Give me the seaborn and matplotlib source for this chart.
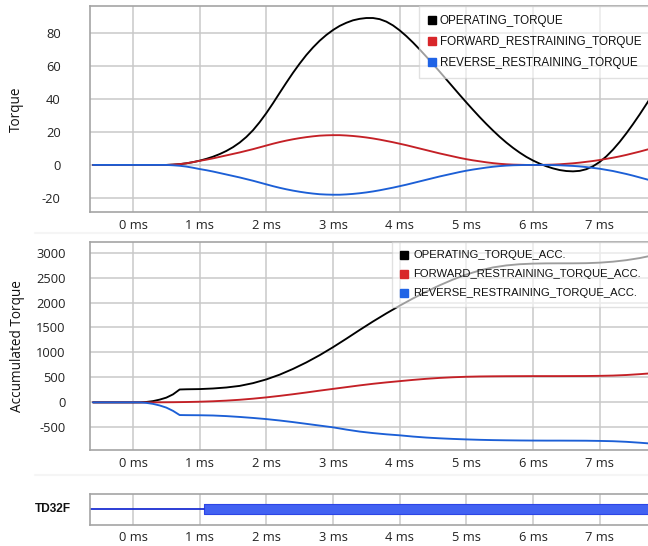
import numpy as np
import pandas as pd
import matplotlib
matplotlib.use("Agg")
import matplotlib.pyplot as plt
from matplotlib.lines import Line2D
import seaborn as sns

# ---------------- data ----------------
t_torque = [-0.6, 0.0, 0.5, 0.6, 0.7, 0.8, 0.9, 1.0, 1.1, 1.2, 1.3, 1.4, 1.5, 1.6, 1.7, 1.8, 1.9,
            2.0, 2.1, 2.2, 2.3, 2.4, 2.5, 2.6, 2.7, 2.8, 2.9, 3.0, 3.1, 3.2, 3.3, 3.4, 3.5, 3.6,
            3.7, 3.8, 3.9, 4.0, 4.1, 4.2, 4.3, 4.4, 4.5, 4.6, 4.7, 4.8, 4.9, 5.0, 5.1, 5.2, 5.3,
            5.4, 5.5, 5.6, 5.7, 5.8, 5.9, 6.0, 6.1, 6.2, 6.3, 6.4, 6.5, 6.6, 6.7, 6.8, 6.9, 7.0,
            7.1, 7.2, 7.3, 7.4, 7.5, 7.6, 7.7, 7.8]
operating_torque = [0, 0, 0, 0.2, 0.5, 1.0, 1.7, 2.6, 3.7, 5.0, 6.6, 8.5, 10.8, 13.6, 17.0, 21.1, 26.0,
                    31.5, 37.5, 43.8, 50.0, 56.0, 61.6, 66.8, 71.4, 75.5, 79.0, 82.0, 84.5, 86.4, 87.9, 88.8, 89.3, 89.3,
                    88.6, 87.1, 84.8, 81.8, 78.3, 74.4, 70.2, 65.8, 61.3, 56.7, 52.0, 47.3, 42.6, 38.0, 33.5, 29.1, 24.9,
                    20.9, 17.1, 13.6, 10.4, 7.5, 4.9, 2.7, 0.8, -0.8, -2.1, -3.1, -3.7, -3.9, -3.6, -2.6, -0.8, 1.8,
                    5.2, 9.3, 14.0, 19.2, 24.8, 30.7, 36.9, 43.2]
forward_restraining_torque = [0, 0, 0, 0.2, 0.5, 1.0, 1.7, 2.5, 3.2, 4.0, 4.9, 5.8, 6.7, 7.6, 8.6, 9.6, 10.7,
                              11.8, 12.9, 13.9, 14.8, 15.6, 16.3, 16.9, 17.4, 17.8, 18.0, 18.1, 18.1, 17.9, 17.6, 17.2, 16.7, 16.1,
                              15.4, 14.6, 13.8, 12.9, 12.0, 11.0, 10.0, 9.0, 8.0, 7.0, 6.1, 5.2, 4.3, 3.5, 2.8, 2.2, 1.6,
                              1.1, 0.7, 0.4, 0.2, 0.1, 0, 0, 0, 0.1, 0.2, 0.4, 0.7, 1.0, 1.4, 1.9, 2.4, 3.0,
                              3.7, 4.4, 5.2, 6.1, 7.1, 8.1, 9.2, 10.3]
reverse_restraining_torque = [0, 0, 0, -0.2, -0.5, -1.0, -1.7, -2.5, -3.2, -4.0, -4.9, -5.8, -6.7, -7.6, -8.6, -9.6, -10.7,
                              -11.8, -12.9, -13.9, -14.8, -15.6, -16.3, -16.9, -17.4, -17.8, -18.0, -18.1, -18.1, -17.9, -17.6, -17.2, -16.7, -16.1,
                              -15.4, -14.6, -13.8, -12.9, -12.0, -11.0, -10.0, -9.0, -8.0, -7.0, -6.1, -5.2, -4.3, -3.5, -2.8, -2.2, -1.6,
                              -1.1, -0.7, -0.4, -0.2, -0.1, 0, 0, 0, 0, -0.1, -0.2, -0.4, -0.6, -0.9, -1.3, -1.8, -2.3,
                              -3.0, -3.7, -4.6, -5.5, -6.5, -7.6, -8.7, -9.8]

t_acc = [-0.6, -0.4, -0.2, 0.0, 0.1, 0.2, 0.3, 0.4, 0.5, 0.6, 0.7, 0.8, 1.0, 1.2, 1.4,
         1.6, 1.8, 2.0, 2.2, 2.4, 2.6, 2.8, 3.0, 3.2, 3.4, 3.6, 3.8, 4.0, 4.2, 4.4,
         4.6, 4.8, 5.0, 5.2, 5.4, 5.6, 5.8, 6.0, 6.2, 6.4, 6.6, 6.8, 7.0, 7.2, 7.4, 7.6, 7.8]
operating_torque_acc = [0, 0, 0, 0, 0, 8, 25, 55, 95, 160, 258, 262, 266, 278, 298,
                        330, 385, 460, 555, 670, 800, 945, 1105, 1275, 1450, 1620, 1782, 1936, 2082, 2218,
                        2345, 2460, 2560, 2642, 2703, 2743, 2767, 2779, 2784, 2785, 2785, 2788, 2798, 2818, 2848, 2890, 2945]
forward_restraining_torque_acc = [0, 0, 0, 0, 0, 0, 0, 1, 2, 3, 5, 7, 13, 22, 35,
                                  52, 74, 100, 130, 163, 198, 235, 270, 305, 340, 372, 400, 425, 450, 472,
                                  490, 503, 513, 519, 522, 524, 525, 526, 526, 526, 527, 528, 531, 537, 548, 565, 585]
reverse_restraining_torque_acc = [0, 0, 0, 0, 0, -10, -30, -62, -105, -170, -254, -256, -258, -263, -275,
                                  -292, -312, -335, -363, -395, -430, -465, -500, -545, -585, -615, -640, -660, -685, -705,
                                  -720, -732, -742, -750, -756, -760, -763, -765, -766, -766, -767, -768, -772, -778, -790, -808, -828]

td32f_time = [-0.65, 1.065, 7.8]
td32f_state = [0, 1, 1]

x_ticks = [0, 1, 2, 3, 4, 5, 6, 7]
x_tick_labels = [f"{v} ms" for v in x_ticks]
torque_ticks = [-20, 0, 20, 40, 60, 80]
acc_ticks = [-500, 0, 500, 1000, 1500, 2000, 2500, 3000]

torque_names = ["OPERATING_TORQUE", "FORWARD_RESTRAINING_TORQUE", "REVERSE_RESTRAINING_TORQUE"]
acc_names = ["OPERATING_TORQUE_ACC.", "FORWARD_RESTRAINING_TORQUE_ACC.", "REVERSE_RESTRAINING_TORQUE_ACC."]

# ---------------- styling ----------------
sns.set_theme(style="white")
plt.rcParams["font.family"] = ["Open Sans", "DejaVu Sans"]
plt.rcParams["axes.unicode_minus"] = False

line_colors = ["#000000", "#c42026", "#1c5fd6"]
marker_colors = ["#000000", "#d8262a", "#1f63e6"]
grid_color = "#c9c9c9"
spine_color = "#a4a4a4"
tick_color = "#222222"
XMIN, XMAX = -0.645, 7.725

fig = plt.figure(figsize=(6.48, 5.46), dpi=100)
W, H = 648, 546


def axes_at(left, top, right, bottom):
    return fig.add_axes([left / W, 1 - bottom / H, (right - left) / W, (bottom - top) / H])


ax_t = axes_at(90, 6, 648, 212)
ax_a = axes_at(90, 242, 648, 450)
ax_s = axes_at(90, 493.5, 648, 524.5)


def style_axes(ax, ypad):
    ax.set_xlim(XMIN, XMAX)
    ax.set_xticks(x_ticks)
    ax.set_xticklabels(x_tick_labels)
    ax.tick_params(axis="both", length=0, labelsize=9.3, colors=tick_color)
    ax.tick_params(axis="x", pad=5)
    ax.tick_params(axis="y", pad=ypad)
    ax.grid(True, color=grid_color, linewidth=1.1)
    ax.set_axisbelow(True)
    for side in ("left", "top", "bottom"):
        ax.spines[side].set_color(spine_color)
        ax.spines[side].set_linewidth(1.2)
    ax.spines["right"].set_visible(False)
    ax.set_xlabel("")


def make_legend(ax, names, x_anchor, fontsize, textpad):
    handles = [Line2D([], [], linestyle="none", marker="s", markersize=5.2,
                      markerfacecolor=c, markeredgecolor=c) for c in marker_colors]
    leg = ax.legend(handles, names, loc="upper left", bbox_to_anchor=(x_anchor, 1.0),
                    borderaxespad=0, frameon=True, fancybox=False, framealpha=0.62,
                    edgecolor="#cfcfcf", handlelength=0.7, handletextpad=textpad,
                    labelspacing=0.8, borderpad=0.75,
                    prop={"family": ["Liberation Sans", "DejaVu Sans"], "size": fontsize})
    leg.get_frame().set_linewidth(1.0)
    for txt in leg.get_texts():
        txt.set_color("#111111")
    return leg


# ---------------- torque panel ----------------
torque_df = pd.concat([
    pd.DataFrame({"time": t_torque, "value": vals, "series": name})
    for name, vals in zip(torque_names,
                          [operating_torque, forward_restraining_torque, reverse_restraining_torque])
])
sns.lineplot(data=torque_df, x="time", y="value", hue="series", hue_order=torque_names,
             palette=line_colors, linewidth=1.35, legend=False, ax=ax_t, sort=False)
style_axes(ax_t, ypad=21)
ax_t.set_ylim(-28.6, 96.6)
ax_t.set_yticks(torque_ticks)
ax_t.set_ylabel("Torque", fontsize=9.8, color="#111111")
ax_t.yaxis.set_label_coords(-0.118, 0.5)
make_legend(ax_t, torque_names, (419 - 90) / 558, 8.4, 0.35)

# ---------------- accumulated torque panel ----------------
acc_df = pd.concat([
    pd.DataFrame({"time": t_acc, "value": vals, "series": name})
    for name, vals in zip(acc_names,
                          [operating_torque_acc, forward_restraining_torque_acc, reverse_restraining_torque_acc])
])
sns.lineplot(data=acc_df, x="time", y="value", hue="series", hue_order=acc_names,
             palette=line_colors, linewidth=1.35, legend=False, ax=ax_a, sort=False)
style_axes(ax_a, ypad=17.5)
ax_a.set_ylim(-954, 3212)
ax_a.set_yticks(acc_ticks)
ax_a.set_ylabel("Accumulated Torque", fontsize=9.8, color="#111111")
ax_a.yaxis.set_label_coords(-0.117, 0.5)
make_legend(ax_a, acc_names, (392 - 90) / 558, 8.1, 0.45)

# ---------------- digital signal panel ----------------
sig = pd.DataFrame({"time": td32f_time, "state": td32f_state})
low = sig.iloc[:2].copy()
low["level"] = 0.0
sns.lineplot(data=low, x="time", y="level", color="#1b2fd2", linewidth=1.3, ax=ax_s,
             legend=False, sort=False)
high = np.array(td32f_state) > 0
ax_s.fill_between(td32f_time, -0.3, 0.3, where=high, step="post",
                  facecolor="#4262f2", edgecolor="#2d45e6", linewidth=0.8)
style_axes(ax_s, ypad=10)
ax_s.set_ylim(-1, 1)
ax_s.set_yticks([])
ax_s.grid(False, axis="y")
ax_s.set_ylabel("")
fig.text(35 / W, 1 - 508.5 / H, "TD32F", ha="left", va="center", fontsize=8.6,
         fontweight="bold", family=["Liberation Sans", "DejaVu Sans"], color="#111111")

# faint panel separators
for y_px in (232.5, 474.5):
    fig.add_artist(Line2D([35 / W, 1.0], [1 - y_px / H] * 2, color="#f5f5f5",
                          linewidth=1.5, transform=fig.transFigure))

fig.savefig("out.png", dpi=100, facecolor="white")
